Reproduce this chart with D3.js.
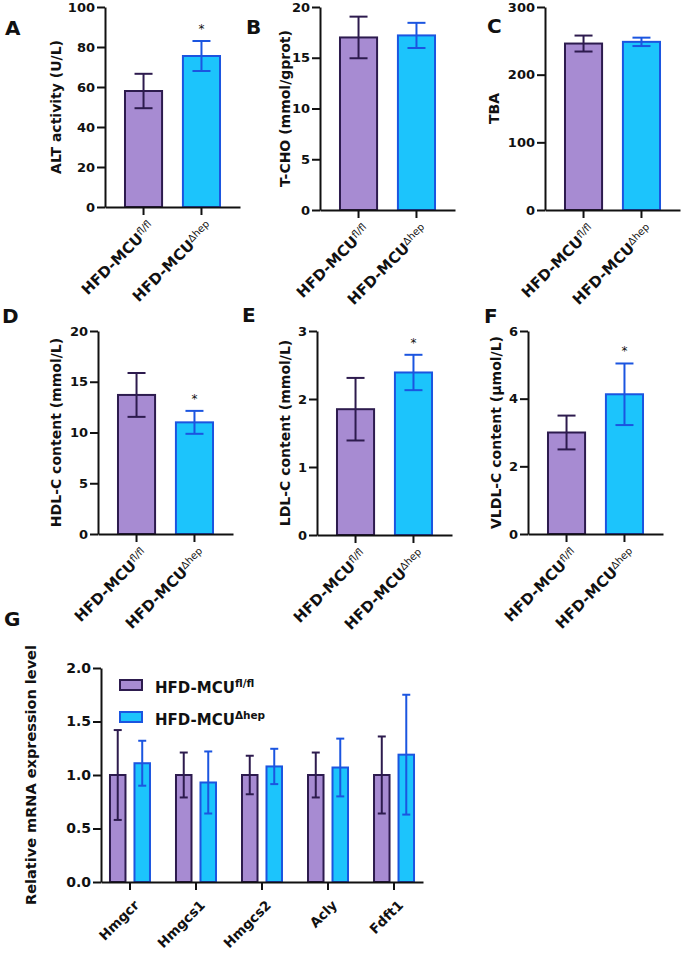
<!DOCTYPE html>
<html>
<head>
<meta charset="utf-8">
<script src="https://cdn.jsdelivr.net/npm/d3@7"></script>
<style>
  body { margin: 0; background: #fff; }
  svg text { font-family: "DejaVu Sans", sans-serif; font-weight: bold; fill: #111; }
</style>
</head>
<body>
<div id="chart"></div>
<script>
// Groups (the superscript part is drawn smaller and raised).
var groupBase = 'HFD-MCU';
var groupSup = ['fl/fl', '\u0394hep'];

// Panels A-F: mean and SD for each group.
var altMean = [58.0, 75.5], altSd = [8.6, 7.5];
var tchoMean = [17.0, 17.2], tchoSd = [2.05, 1.24];
var tbaMean = [246, 248.5], tbaSd = [11.8, 6.2];
var hdlMean = [13.7, 11.0], hdlSd = [2.16, 1.13];
var ldlMean = [1.85, 2.39], ldlSd = [0.46, 0.26];
var vldlMean = [3.0, 4.13], vldlSd = [0.5, 0.91];

// Which bars carry a significance star.
var altStar = [false, true], tchoStar = [false, false], tbaStar = [false, false];
var hdlStar = [false, true], ldlStar = [false, true], vldlStar = [false, true];

// Tick labels.
var altTicks = [0, 20, 40, 60, 80, 100];
var tchoTicks = [0, 5, 10, 15, 20];
var tbaTicks = [0, 100, 200, 300];
var hdlTicks = [0, 5, 10, 15, 20];
var ldlTicks = [0, 1, 2, 3];
var vldlTicks = [0, 2, 4, 6];

// Panel G: relative mRNA expression.
var genes = ['Hmgcr', 'Hmgcs1', 'Hmgcs2', 'Acly', 'Fdft1'];
var flMean = [1.0, 1.0, 1.0, 1.0, 1.0];
var flSd = [0.42, 0.21, 0.18, 0.21, 0.36];
var hepMean = [1.11, 0.93, 1.08, 1.07, 1.19];
var hepSd = [0.21, 0.29, 0.165, 0.27, 0.56];
var geneTicks = [0, 0.5, 1.0, 1.5, 2.0];

var fills = ['#a78bd2', '#1cc4fc'];
var strokes = ['#2d1b4e', '#1b55e0'];

var svg = d3.select('#chart').append('svg')
    .attr('width', 685)
    .attr('height', 953);

// Thick black axis lines and bold labels, like the Prism export.
var styleAxis = function(g, fontSize) {
    g.style('color', '#111');
    g.selectAll('.domain, .tick line').attr('stroke-width', 2);
    g.selectAll('text')
        .style('font-family', '"DejaVu Sans", sans-serif')
        .style('font-weight', 'bold')
        .style('font-size', fontSize + 'px');
};

// Mean +/- SD whisker with caps.
var drawError = function(g, cx, y, mean, sd, capW, color) {
    var hi = y(mean + sd), lo = y(mean - sd);
    g.append('line').attr('x1', cx).attr('x2', cx).attr('y1', hi).attr('y2', lo);
    g.append('line').attr('x1', cx - capW / 2).attr('x2', cx + capW / 2).attr('y1', hi).attr('y2', hi);
    g.append('line').attr('x1', cx - capW / 2).attr('x2', cx + capW / 2).attr('y1', lo).attr('y2', lo);
    g.selectAll('line').attr('stroke', color).attr('stroke-width', 2);
};

var panels = [
    {letter: 'A', title: 'ALT activity (U/L)', mean: altMean, sd: altSd, ticks: altTicks, star: altStar,
        ax: 105, top: 7, bottom: 207, lx: 5, ly: 35, tx: 61},
    {letter: 'B', title: 'T-CHO (mmol/gprot)', mean: tchoMean, sd: tchoSd, ticks: tchoTicks, star: tchoStar,
        ax: 320, top: 7, bottom: 210, lx: 246, ly: 34, tx: 290},
    {letter: 'C', title: 'TBA', mean: tbaMean, sd: tbaSd, ticks: tbaTicks, star: tbaStar,
        ax: 545, top: 7, bottom: 210, lx: 487, ly: 33, tx: 499},
    {letter: 'D', title: 'HDL-C content (mmol/L)', mean: hdlMean, sd: hdlSd, ticks: hdlTicks, star: hdlStar,
        ax: 98, top: 331, bottom: 534, lx: 2, ly: 323, tx: 61},
    {letter: 'E', title: 'LDL-C content (mmol/L)', mean: ldlMean, sd: ldlSd, ticks: ldlTicks, star: ldlStar,
        ax: 317, top: 331, bottom: 535, lx: 242, ly: 322, tx: 290},
    {letter: 'F', title: 'VLDL-C content (\u03bcmol/L)', mean: vldlMean, sd: vldlSd, ticks: vldlTicks, star: vldlStar,
        ax: 528, top: 331, bottom: 534, lx: 484, ly: 323, tx: 501}
];

// Draws one of the two-bar panels.
var drawPanel = function(p) {
    var y = d3.scaleLinear().domain([0, d3.max(p.ticks)]).range([p.bottom, p.top]);
    var x = d3.scaleBand().domain([0, 1]).range([0, 135])
        .paddingInner(0.36).paddingOuter(0.345);
    var g = svg.append('g').attr('transform', 'translate(' + p.ax + ',0)');

    g.selectAll('rect').data(p.mean).enter().append('rect')
        .attr('x', function(d, i) { return x(i); })
        .attr('y', function(d) { return y(d); })
        .attr('width', x.bandwidth())
        .attr('height', function(d) { return p.bottom - y(d); })
        .attr('fill', function(d, i) { return fills[i]; })
        .attr('stroke', function(d, i) { return strokes[i]; })
        .attr('stroke-width', 2);

    p.mean.forEach(function(m, i) {
        var cx = x(i) + x.bandwidth() / 2;
        drawError(g.append('g'), cx, y, m, p.sd[i], 18, strokes[i]);
        if (p.star[i]) {
            g.append('text').attr('x', cx).attr('y', y(m + p.sd[i]) - 8)
                .attr('text-anchor', 'middle')
                .style('font-size', '12px').style('font-weight', 'normal')
                .text('*');
        }
        // rotated group label with superscript
        var t = g.append('text')
            .attr('text-anchor', 'end')
            .attr('transform', 'translate(' + (cx + 12) + ',' + (p.bottom + 21) + ') rotate(-45)')
            .style('font-size', '15px');
        t.append('tspan').text(groupBase);
        t.append('tspan').attr('dy', '-0.5em')
            .style('font-size', '10px').style('font-weight', 'normal')
            .text(groupSup[i]);
    });

    var yAxis = g.append('g')
        .call(d3.axisLeft(y).tickValues(p.ticks).tickFormat(d3.format('d'))
            .tickSize(8).tickPadding(2).tickSizeOuter(0));
    styleAxis(yAxis, 13);
    var xAxis = g.append('g').attr('transform', 'translate(0,' + p.bottom + ')')
        .call(d3.axisBottom(x).tickSize(8).tickSizeOuter(0).tickFormat(''));
    styleAxis(xAxis, 13);

    svg.append('text').attr('x', p.lx).attr('y', p.ly)
        .style('font-size', '20px').text(p.letter);
    svg.append('text')
        .attr('text-anchor', 'middle')
        .attr('transform', 'translate(' + p.tx + ',' + ((p.top + p.bottom) / 2) + ') rotate(-90)')
        .style('font-size', '14px')
        .text(p.title);
};

panels.forEach(drawPanel);

// Panel G: grouped bars per gene.
var drawGenes = function() {
    var ax = 101, top = 668, bottom = 882;
    var series = [{mean: flMean, sd: flSd}, {mean: hepMean, sd: hepSd}];
    var y = d3.scaleLinear().domain([0, d3.max(geneTicks)]).range([bottom, top]);
    var x0 = d3.scaleBand().domain(genes).range([0, 322])
        .paddingInner(0.394).paddingOuter(0.136);
    var x1 = d3.scaleBand().domain([0, 1]).range([0, x0.bandwidth()]).paddingInner(0.367);
    var g = svg.append('g').attr('transform', 'translate(' + ax + ',0)');

    series.forEach(function(s, k) {
        g.append('g').selectAll('rect').data(s.mean).enter().append('rect')
            .attr('x', function(d, i) { return x0(genes[i]) + x1(k); })
            .attr('y', function(d) { return y(d); })
            .attr('width', x1.bandwidth())
            .attr('height', function(d) { return bottom - y(d); })
            .attr('fill', fills[k])
            .attr('stroke', strokes[k])
            .attr('stroke-width', 2);
        s.mean.forEach(function(m, i) {
            var cx = x0(genes[i]) + x1(k) + x1.bandwidth() / 2;
            drawError(g.append('g'), cx, y, m, s.sd[i], 8, strokes[k]);
        });
    });

    var yAxis = g.append('g')
        .call(d3.axisLeft(y).tickValues(geneTicks).tickFormat(d3.format('.1f'))
            .tickSize(8).tickPadding(2).tickSizeOuter(0));
    styleAxis(yAxis, 14);
    var xAxis = g.append('g').attr('transform', 'translate(0,' + bottom + ')')
        .call(d3.axisBottom(x0).tickSize(8).tickSizeOuter(0).tickFormat(''));
    styleAxis(xAxis, 14);

    genes.forEach(function(name) {
        var cx = x0(name) + x0.bandwidth() / 2;
        g.append('text')
            .attr('text-anchor', 'end')
            .attr('transform', 'translate(' + (cx + 10) + ',' + (bottom + 24) + ') rotate(-45)')
            .style('font-size', '13.5px')
            .text(name);
    });

    // legend
    var leg = g.append('g').attr('transform', 'translate(' + (120 - ax) + ',680)');
    series.forEach(function(s, k) {
        leg.append('rect').attr('x', 0).attr('y', k * 32).attr('width', 22).attr('height', 10)
            .attr('fill', fills[k]).attr('stroke', strokes[k]).attr('stroke-width', 2);
        var t = leg.append('text').attr('x', 35).attr('y', k * 32 + 12.5).style('font-size', '15px');
        t.append('tspan').text(groupBase);
        t.append('tspan').attr('dy', '-0.55em').style('font-size', '10.5px').text(groupSup[k]);
    });

    svg.append('text').attr('x', 4).attr('y', 626).style('font-size', '20px').text('G');
    svg.append('text')
        .attr('text-anchor', 'middle')
        .attr('transform', 'translate(36,' + ((top + bottom) / 2) + ') rotate(-90)')
        .style('font-size', '14.5px')
        .text('Relative mRNA expression level');
};

drawGenes();
</script>
</body>
</html>
